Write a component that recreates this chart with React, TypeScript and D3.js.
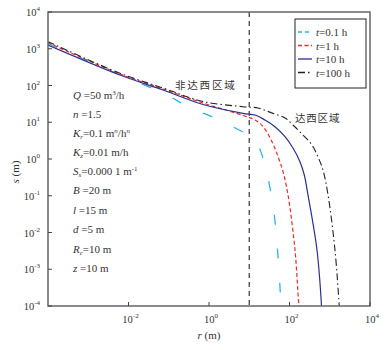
import React from "react";
import * as d3 from "d3";

// t = 0.1 h
const r01 = [1e-4, 0.00615, 0.0719, 0.318, 2.23, 14.3, 26.9, 41.2, 50.4, 58.1, 61.5];
const s01 = [1390, 193, 62.5, 26.0, 10.2, 2.9, 0.43, 0.034, 0.00334, 0.00032, 0.0001];
// t = 1 h
const r1 = [1e-4, 0.00615, 0.0719, 0.71, 7.0, 13.9, 22.0, 36.7, 51.8, 69.0, 91.8, 137, 172, 175];
const s1 = [1462, 205, 80.4, 33.4, 15.3, 11.5, 7.65, 2.96, 1.16, 0.451, 0.105, 0.00334, 0.000106, 0.0001];
// t = 10 h
const r10 = [1e-4, 0.00615, 0.0719, 0.71, 7.0, 13.9, 24.6, 43.6, 77.3, 122, 182, 233, 288, 482, 624];
const s10 = [1265, 193, 75.5, 30.4, 17.5, 15.7, 11.5, 7.57, 4.05, 1.99, 0.845, 0.367, 0.105, 0.00334, 0.0001];
// t = 100 h
const r100 = [1e-4, 0.00615, 0.0719, 0.71, 7.0, 16.5, 36.7, 77.3, 122, 216, 362, 511, 679, 906, 1349, 1700, 1718];
const s100 = [1556, 215, 85.5, 36.7, 26.5, 24.4, 17.9, 13.1, 8.41, 4.5, 2.4, 1.13, 0.502, 0.105, 0.00334, 0.00012, 0.0001];

const yTickExp = [4, 3, 2, 1, 0, -1, -2, -3, -4];
const xTickExp = [-2, 0, 2, 4];
const legendLabels = ["=0.1 h", "=1 h", "=10 h", "=100 h"];
const rc = 10;

const L = 48, R = 370, T = 12, B = 306;

export default function App() {
  const x = d3.scaleLog().domain([1e-4, 1e4]).range([L, R]);
  const y = d3.scaleLog().domain([1e-4, 1e4]).range([B, T]);
  const line = d3
    .line<[number, number]>()
    .x((d) => x(d[0]))
    .y((d) => y(d[1]))
    .curve(d3.curveCatmullRom.alpha(0.5));

  const series = [
    { r: r01, s: s01, color: "#29b6e8", dash: "10,24", w: 1.3 },
    { r: r1, s: s1, color: "#ee2a2a", dash: "4,2.5", w: 1.2 },
    { r: r10, s: s10, color: "#2b2f8f", dash: "", w: 1.2 },
    { r: r100, s: s100, color: "#222", dash: "7,3,1.5,3", w: 1.1 },
  ];

  const serif = "'Liberation Serif', 'Times New Roman', serif";
  const cjk = "'Noto Sans CJK SC', sans-serif";

  const params: React.ReactNode[] = [
    <>
      <tspan fontStyle="italic">Q</tspan> =50 m<tspan dy={-4} fontSize={7}>3</tspan>
      <tspan dy={4}>/h</tspan>
    </>,
    <>
      <tspan fontStyle="italic">n</tspan> =1.5
    </>,
    <>
      <tspan fontStyle="italic">K</tspan>
      <tspan fontStyle="italic" fontSize={7} dy={2}>r</tspan>
      <tspan dy={-2}>=0.1 m</tspan>
      <tspan dy={-4} fontSize={7} fontStyle="italic">n</tspan>
      <tspan dy={4}>/h</tspan>
      <tspan dy={-4} fontSize={7} fontStyle="italic">n</tspan>
    </>,
    <>
      <tspan fontStyle="italic">K</tspan>
      <tspan fontStyle="italic" fontSize={7} dy={2}>z</tspan>
      <tspan dy={-2}>=0.01 m/h</tspan>
    </>,
    <>
      <tspan fontStyle="italic">S</tspan>
      <tspan fontStyle="italic" fontSize={7} dy={2}>s</tspan>
      <tspan dy={-2}>=0.000 1 m</tspan>
      <tspan dy={-4} fontSize={7}>-1</tspan>
    </>,
    <>
      <tspan fontStyle="italic">B</tspan> =20 m
    </>,
    <>
      <tspan fontStyle="italic">l</tspan> =15 m
    </>,
    <>
      <tspan fontStyle="italic">d</tspan> =5 m
    </>,
    <>
      <tspan fontStyle="italic">R</tspan>
      <tspan fontStyle="italic" fontSize={7} dy={2}>c</tspan>
      <tspan dy={-2}>=10 m</tspan>
    </>,
    <>
      <tspan fontStyle="italic">z</tspan> =10 m
    </>,
  ];
  const paramY = [99, 118, 137, 156, 175, 194, 214, 233, 253, 272];
  const legendY = [32, 45.5, 59, 72.5];

  return (
    <svg
      width={388}
      height={350}
      style={{ position: "absolute", left: 0, top: 0, background: "#fff" }}
      fontFamily={serif}
    >
      <defs>
        <clipPath id="plotclip">
          <rect x={L} y={T} width={R - L} height={B - T} />
        </clipPath>
      </defs>
      <rect x={0} y={0} width={388} height={350} fill="#fff" />

      {/* curves */}
      <g clipPath="url(#plotclip)">
        {series.map((sr, i) => (
          <path
            key={i}
            d={line(sr.r.map((rv, j) => [rv, sr.s[j]] as [number, number])) || ""}
            fill="none"
            stroke={sr.color}
            strokeWidth={sr.w}
            strokeDasharray={sr.dash || undefined}
          />
        ))}
        <line
          x1={x(rc)}
          x2={x(rc)}
          y1={T}
          y2={B}
          stroke="#444"
          strokeWidth={1.3}
          strokeDasharray="5,4"
        />
      </g>

      {/* frame */}
      <rect x={L} y={T} width={R - L} height={B - T} fill="none" stroke="#666" strokeWidth={1.5} />

      {/* y ticks */}
      {yTickExp.map((e) => (
        <g key={"y" + e}>
          <line x1={L} x2={L + 4} y1={y(Math.pow(10, e))} y2={y(Math.pow(10, e))} stroke="#444" strokeWidth={1} />
          <text x={40} y={y(Math.pow(10, e)) + 4} textAnchor="end" fontSize={10.5} fill="#333">
            10<tspan dy={-5} fontSize={7}>{e}</tspan>
          </text>
        </g>
      ))}

      {/* x ticks */}
      {xTickExp.map((e) => (
        <g key={"x" + e}>
          <line x1={x(Math.pow(10, e))} x2={x(Math.pow(10, e))} y1={B} y2={B - 4} stroke="#444" strokeWidth={1} />
          <text x={x(Math.pow(10, e)) + 2} y={323} textAnchor="middle" fontSize={10.5} fill="#333">
            10<tspan dy={-5} fontSize={7}>{e}</tspan>
          </text>
        </g>
      ))}

      {/* axis labels */}
      <text x={209} y={339} textAnchor="middle" fontSize={11} fill="#333">
        <tspan fontStyle="italic">r</tspan> (m)
      </text>
      <text
        transform={`translate(19,172) rotate(-90)`}
        textAnchor="middle"
        fontSize={11}
        fill="#333"
      >
        <tspan fontStyle="italic">s</tspan> (m)
      </text>

      {/* parameters */}
      {params.map((p, i) => (
        <text key={"p" + i} x={73} y={paramY[i]} fontSize={11} fill="#333">
          {p}
        </text>
      ))}

      {/* annotations */}
      <text x={175} y={89} fontSize={10.5} fill="#333" fontFamily={cjk} letterSpacing={1.8}>
        非达西区域
      </text>
      <text x={295} y={122} fontSize={10.5} fill="#333" fontFamily={cjk} letterSpacing={0.8}>
        达西区域
      </text>

      {/* legend */}
      <rect x={295} y={19} width={71} height={69} fill="#fff" stroke="#222" strokeWidth={1} />
      {series.map((sr, i) => (
        <g key={"l" + i}>
          <line
            x1={298}
            x2={312}
            y1={legendY[i]}
            y2={legendY[i]}
            stroke={sr.color}
            strokeWidth={1.3}
            strokeDasharray={i === 0 ? "4,3" : sr.dash || undefined}
          />
          <text x={316} y={legendY[i] + 4} fontSize={11} fill="#333">
            <tspan fontStyle="italic">t</tspan>
            {legendLabels[i]}
          </text>
        </g>
      ))}
    </svg>
  );
}
